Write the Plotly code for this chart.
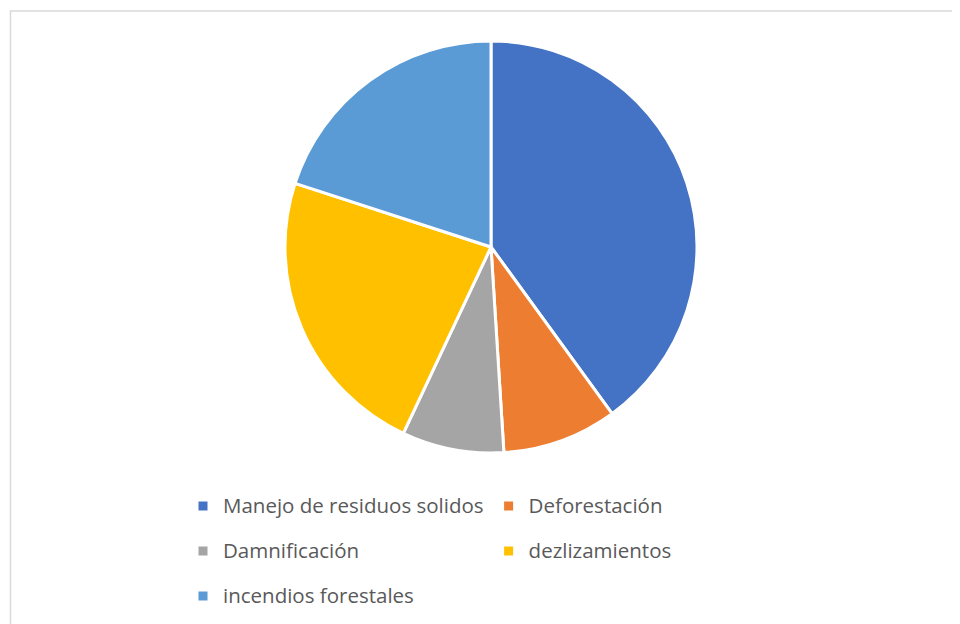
import plotly.graph_objects as go

labels = ["Manejo de residuos solidos", "Deforestación", "Damnificación", "dezlizamientos", "incendios forestales"]
values = [40, 9, 8, 23, 20]
colors = ["#4472C4", "#ED7D31", "#A5A5A5", "#FFC000", "#5B9BD5"]

W, H = 960, 624
OFF = 8            # page offset of the figure in the browser
ML, MR = 100, 100  # side margins (narrow plot area -> two legend columns)
PW = W - ML - MR

def px(xp):  # page x -> paper x
    return (xp - OFF - ML) / PW

def py(yp):  # page y -> paper y
    return (H - (yp - OFF)) / H

cx, cy, r = 491, 247, 206

legend_text = ['<span style="font-size:20.5px;baseline-shift:6px">%s</span>' % l for l in labels]

fig = go.Figure(go.Pie(
    labels=legend_text, values=values, sort=False, direction="clockwise", rotation=0,
    marker=dict(colors=colors, line=dict(color="white", width=3)),
    textinfo="none", hoverinfo="label+percent",
    domain=dict(x=[px(cx - r), px(cx + r)], y=[py(cy + r), py(cy - r)]),
))

# chart-area border: only top and left edges are visible in the reference
bx0, by0 = px(10.5), py(11)
border_path = "M %f,%f L %f,%f L %f,%f" % (bx0, -0.5, bx0, by0, 1.6, by0)

fig.update_layout(
    width=W, height=H, margin=dict(l=ML, r=MR, t=0, b=0),
    paper_bgcolor="white", plot_bgcolor="white",
    font=dict(family="Open Sans, sans-serif", color="#595959"),
    legend=dict(orientation="h", x=px(183), xanchor="left", y=py(478.5), yanchor="top",
                font=dict(size=32.3, color="#595959"), bgcolor="rgba(0,0,0,0)"),
    shapes=[dict(type="path", xref="paper", yref="paper", path=border_path,
                 line=dict(color="#D9D9D9", width=1.5), layer="below")],
)

fig.write_html("out.html")
